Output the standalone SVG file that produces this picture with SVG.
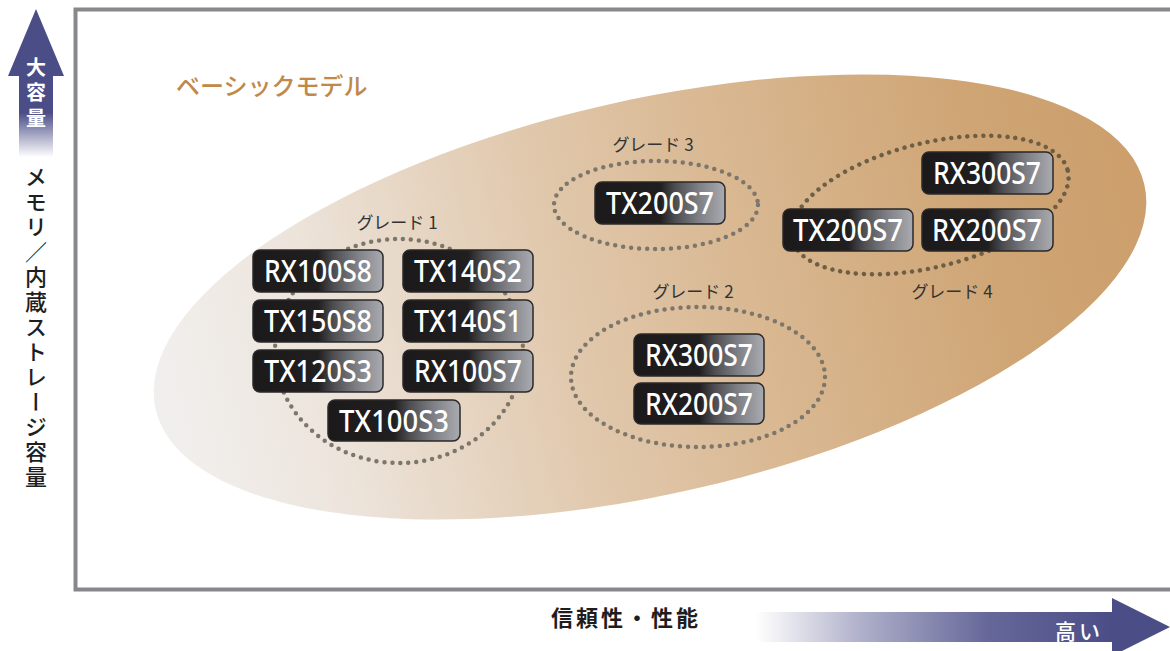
<svg xmlns="http://www.w3.org/2000/svg" width="1170" height="651" viewBox="0 0 1170 651">
<defs>
<linearGradient id="bigFill" gradientUnits="userSpaceOnUse" x1="155" y1="0" x2="1145" y2="0">
<stop offset="0" stop-color="#f1efed"/>
<stop offset="0.15" stop-color="#ede5dd"/>
<stop offset="0.4" stop-color="#e1c9ae"/>
<stop offset="0.6" stop-color="#d9b892"/>
<stop offset="0.85" stop-color="#cfa575"/>
<stop offset="1" stop-color="#cc9f6c"/>
</linearGradient>
<linearGradient id="nodeFill" x1="0" y1="0" x2="1" y2="0">
<stop offset="0" stop-color="#1b191a"/>
<stop offset="0.5" stop-color="#201e1f"/>
<stop offset="0.62" stop-color="#4e4e52"/>
<stop offset="0.8" stop-color="#7e8085"/>
<stop offset="1" stop-color="#a9abb1"/>
</linearGradient>
<linearGradient id="upArrow" gradientUnits="userSpaceOnUse" x1="0" y1="9" x2="0" y2="157">
<stop offset="0" stop-color="#4b4d87"/>
<stop offset="0.7" stop-color="#4b4d87"/>
<stop offset="1" stop-color="#4b4d87" stop-opacity="0"/>
</linearGradient>
<linearGradient id="rightArrow" gradientUnits="userSpaceOnUse" x1="756" y1="0" x2="1112" y2="0">
<stop offset="0" stop-color="#4b4d87" stop-opacity="0"/>
<stop offset="0.3" stop-color="#4b4d87" stop-opacity="0.45"/>
<stop offset="0.65" stop-color="#4b4d87" stop-opacity="0.85"/>
<stop offset="1" stop-color="#4b4d87"/>
</linearGradient>
<style>
.frame{fill:none;stroke:#88888c;stroke-width:4}
.node rect{fill:url(#nodeFill);stroke:#2a2828;stroke-width:1.5}
.node text{fill:#ffffff;font-family:"Noto Sans","Liberation Sans",sans-serif;font-size:30px;font-weight:500;text-anchor:middle}
.grade{fill:none;stroke:#7d766b;stroke-width:4.5;stroke-linecap:round;stroke-dasharray:0 8}
.glabel{fill:#333333;font-family:"Noto Sans CJK JP","Noto Sans",sans-serif;font-size:17px;text-anchor:middle}
.jp{font-family:"Noto Sans CJK JP","Noto Sans",sans-serif}
</style>
</defs>
<rect width="1170" height="651" fill="#ffffff"/>
<path class="frame" d="M1172,9.5 H75.5 V589.5 H1172"/>
<ellipse cx="650" cy="297" rx="507" ry="197" transform="rotate(-12.8 650 297)" fill="url(#bigFill)"/>
<text x="176" y="95" class="jp" font-size="24" font-weight="500" fill="#c0894a">ベーシックモデル</text>

<g id="axis-y">
<path d="M36,9 L64,76 L53,76 L53,157 L19,157 L19,76 L8,76 Z" fill="url(#upArrow)"/>
<text x="36" y="57" class="jp" font-size="20" font-weight="700" fill="#ffffff" style="writing-mode:vertical-rl" letter-spacing="5.5">大容量</text>
<text x="36" y="166" class="jp" font-size="22" font-weight="500" fill="#1e1e1e" style="writing-mode:vertical-rl" letter-spacing="3">メモリ／内蔵ストレージ容量</text>
</g>
<g id="axis-x">
<path d="M756,612 H1112 V598 L1170,627 L1112,656 V642 H756 Z" fill="url(#rightArrow)"/>
<text x="551" y="626" class="jp" font-size="22" font-weight="600" fill="#1e1e1e" letter-spacing="3">信頼性・性能</text>
<text x="1055" y="639" class="jp" font-size="21" font-weight="500" fill="#ffffff" letter-spacing="3">高い</text>
</g>

<g id="grade1">
<ellipse class="grade" cx="399" cy="351" rx="124" ry="112"/>
<text class="glabel" x="397" y="229">グレード 1</text>
</g>
<g id="grade3">
<ellipse class="grade" cx="656" cy="205" rx="102" ry="44"/>
<text class="glabel" x="653" y="151">グレード 3</text>
</g>
<g id="grade2">
<ellipse class="grade" cx="698" cy="377" rx="127" ry="70"/>
<text class="glabel" x="693" y="298">グレード 2</text>
</g>
<g id="grade4">
<ellipse class="grade" cx="930" cy="205" rx="142" ry="62" transform="rotate(-14 930 205)" style="stroke:#6d5e46"/>
<text class="glabel" x="952" y="298">グレード 4</text>
</g>

<g id="connectors"/>

<g id="n-rx100s8" class="node"><rect x="253" y="250" width="130" height="42" rx="7"/><text x="318" y="282" textLength="108" lengthAdjust="spacingAndGlyphs">RX100S8</text></g>
<g id="n-tx140s2" class="node"><rect x="403" y="250" width="130" height="42" rx="7"/><text x="468" y="282" textLength="108" lengthAdjust="spacingAndGlyphs">TX140S2</text></g>
<g id="n-tx150s8" class="node"><rect x="253" y="300" width="130" height="42" rx="7"/><text x="318" y="332" textLength="108" lengthAdjust="spacingAndGlyphs">TX150S8</text></g>
<g id="n-tx140s1" class="node"><rect x="403" y="300" width="130" height="42" rx="7"/><text x="468" y="332" textLength="108" lengthAdjust="spacingAndGlyphs">TX140S1</text></g>
<g id="n-tx120s3" class="node"><rect x="253" y="350" width="130" height="42" rx="7"/><text x="318" y="382" textLength="108" lengthAdjust="spacingAndGlyphs">TX120S3</text></g>
<g id="n-rx100s7" class="node"><rect x="403" y="350" width="130" height="42" rx="7"/><text x="468" y="382" textLength="108" lengthAdjust="spacingAndGlyphs">RX100S7</text></g>
<g id="n-tx100s3" class="node"><rect x="328" y="400" width="132" height="41" rx="7"/><text x="394" y="432" textLength="110" lengthAdjust="spacingAndGlyphs">TX100S3</text></g>

<g id="n-tx200s7-g3" class="node"><rect x="595" y="182" width="130" height="42" rx="7"/><text x="660" y="214" textLength="108" lengthAdjust="spacingAndGlyphs">TX200S7</text></g>

<g id="n-rx300s7-g2" class="node"><rect x="634" y="334" width="130" height="42" rx="7"/><text x="699" y="366" textLength="108" lengthAdjust="spacingAndGlyphs">RX300S7</text></g>
<g id="n-rx200s7-g2" class="node"><rect x="634" y="383" width="130" height="41" rx="7"/><text x="699" y="415" textLength="108" lengthAdjust="spacingAndGlyphs">RX200S7</text></g>

<g id="n-rx300s7-g4" class="node"><rect x="922" y="152" width="131" height="42" rx="7"/><text x="987" y="184" textLength="108" lengthAdjust="spacingAndGlyphs">RX300S7</text></g>
<g id="n-tx200s7-g4" class="node"><rect x="783" y="209" width="130" height="42" rx="7"/><text x="848" y="241" textLength="110" lengthAdjust="spacingAndGlyphs">TX200S7</text></g>
<g id="n-rx200s7-g4" class="node"><rect x="922" y="209" width="131" height="42" rx="7"/><text x="987" y="241" textLength="110" lengthAdjust="spacingAndGlyphs">RX200S7</text></g>
</svg>
